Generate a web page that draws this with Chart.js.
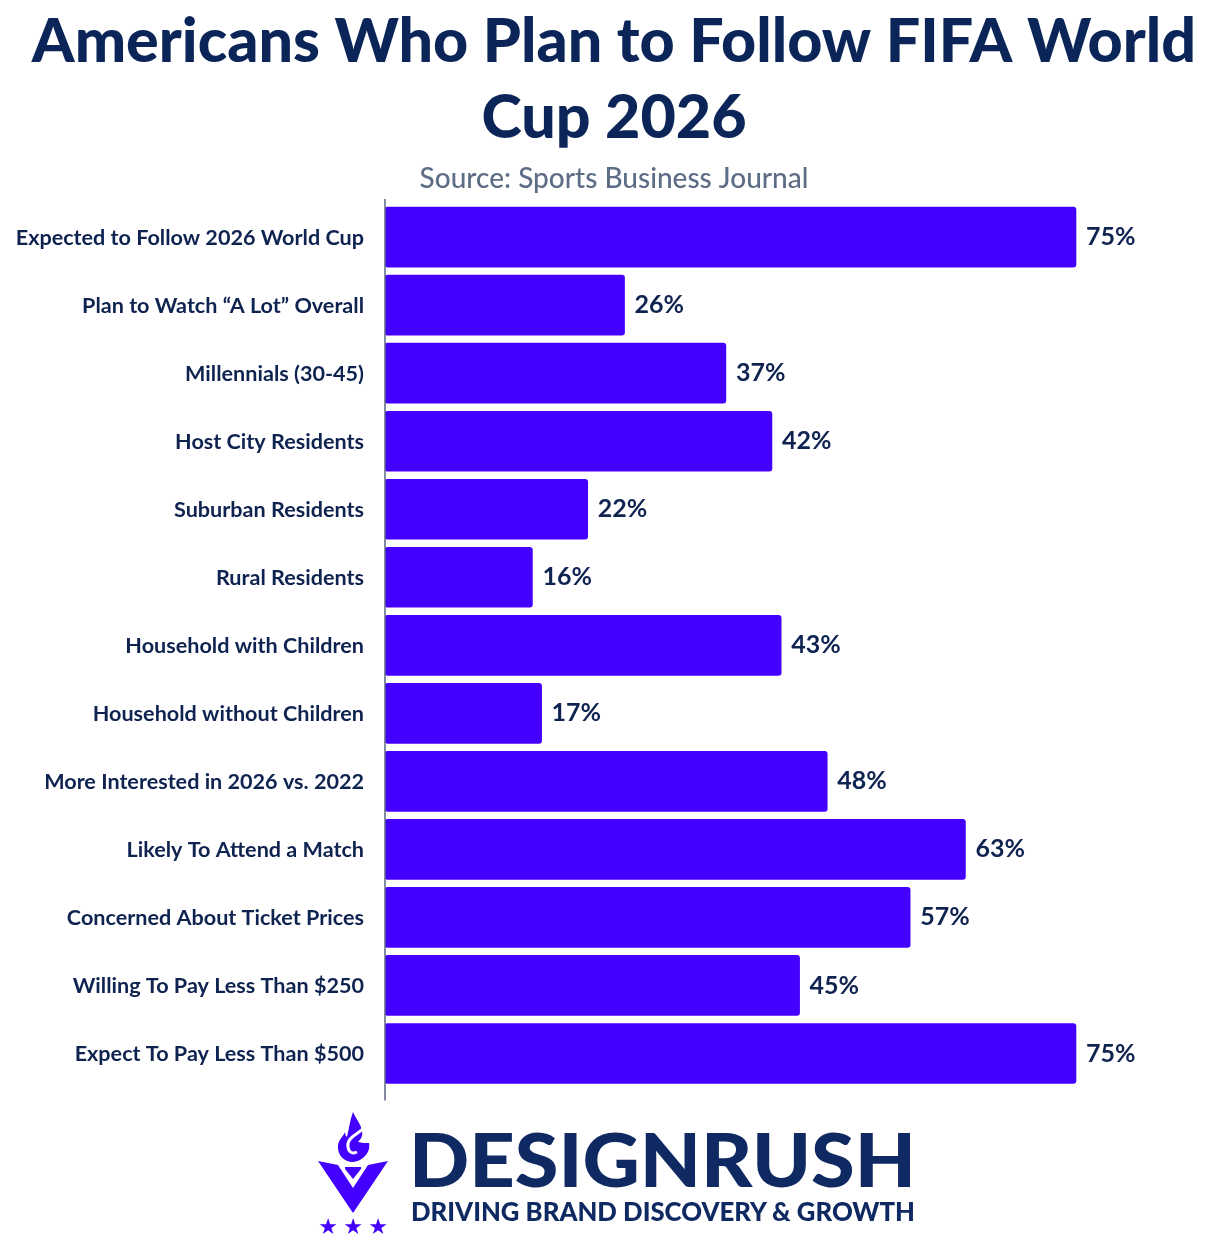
<!DOCTYPE html>
<html><head><meta charset="utf-8">
<style>html,body{margin:0;padding:0;background:#fff}#w{position:relative;width:1228px;height:1242px;overflow:hidden}canvas{position:absolute;left:0;top:0}svg{position:absolute;left:0;top:0}</style>
<script src="https://cdn.jsdelivr.net/npm/chart.js@4"></script></head>
<body><div id="w"><canvas id="c" width="1228" height="1242"></canvas>
<svg width="1228" height="1242" viewBox="0 0 1228 1242">
<g fill="#4400ff">
<path d="M353 1112C356 1119 361 1124 362 1131C363 1136 361 1139 358 1142C362 1143 365 1143 369 1143C371 1152 363 1161 353 1162C344 1162 337 1155 338 1145C339 1139 343 1137 345 1132C345 1135 346 1136 347 1137C349 1128 350 1120 353 1112Z"/>
<path d="M318 1161L338 1165L353 1188L368 1165L388 1161L353 1213Z"/>
<path d="M345 1167L361 1167L361 1169L353 1179L345 1169Z"/>
</g>
<path d="M364 1128C358 1134 346 1138 348 1147C349 1153 353 1154 357 1152" fill="none" stroke="#fff" stroke-width="3"/>
<g fill="#4400ff" font-family="DejaVu Sans" font-size="22" text-anchor="middle">
<text x="328" y="1234">★</text><text x="353" y="1234">★</text><text x="378" y="1234">★</text></g>
<text x="409" y="1187" font-family="Lato" font-weight="900" font-size="75" fill="#0f2a63" textLength="507" lengthAdjust="spacingAndGlyphs">DESIGNRUSH</text>
<text x="411" y="1221" font-family="Lato" font-weight="900" font-size="26" fill="#0f2a63" textLength="504" lengthAdjust="spacingAndGlyphs">DRIVING BRAND DISCOVERY &amp; GROWTH</text>
</svg></div>
<script>
const categories=["Expected to Follow 2026 World Cup","Plan to Watch “A Lot” Overall","Millennials (30-45)","Host City Residents","Suburban Residents","Rural Residents","Household with Children","Household without Children","More Interested in 2026 vs. 2022","Likely To Attend a Match","Concerned About Ticket Prices","Willing To Pay Less Than $250","Expect To Pay Less Than $500"];
const values=[75,26,37,42,22,16,43,17,48,63,57,45,75];
const titleLines=["Americans Who Plan to Follow FIFA World","Cup 2026"];
const sourceText="Source: Sports Business Journal";
const extras={id:'extras',afterDatasetsDraw(ch){
 const {ctx,chartArea:a}=ch;const m=ch.getDatasetMeta(0);
 ctx.save();ctx.font='bold 25px Lato';ctx.fillStyle='#0f2350';ctx.textBaseline='middle';ctx.textAlign='left';
 m.data.forEach((b,i)=>ctx.fillText(values[i]+'%',b.x+10,b.y));
 ctx.strokeStyle='#5b6480';ctx.lineWidth=1.5;ctx.beginPath();ctx.moveTo(a.left,a.top-4);ctx.lineTo(a.left,a.bottom+13);ctx.stroke();ctx.restore();
}};
new Chart(document.getElementById('c'),{type:'bar',data:{labels:categories,datasets:[{data:values,backgroundColor:'#4400ff',borderRadius:3,borderSkipped:false,barThickness:60}]},
plugins:[extras],
options:{indexAxis:'y',responsive:false,animation:false,devicePixelRatio:1,
layout:{padding:{top:4,right:0,bottom:154.5,left:0}},
plugins:{legend:{display:false},tooltip:{enabled:false},
title:{display:true,text:titleLines,color:'#0b2559',font:{family:'Lato',size:61,weight:'900',lineHeight:1.25},padding:{top:0,bottom:6}},
subtitle:{display:true,text:sourceText,color:'#5d6d85',font:{family:'Lato',size:28,weight:'500'},padding:{bottom:7}}},
scales:{
x:{min:0,max:91.5,display:false,grid:{display:false}},
y:{grid:{display:false,drawTicks:false},border:{display:false},afterFit(s){s.width=385},
ticks:{color:'#0f2350',padding:21,labelOffset:1,font:{family:'Lato',size:21.6,weight:'bold'},autoSkip:false}}
}}});
</script></body></html>
